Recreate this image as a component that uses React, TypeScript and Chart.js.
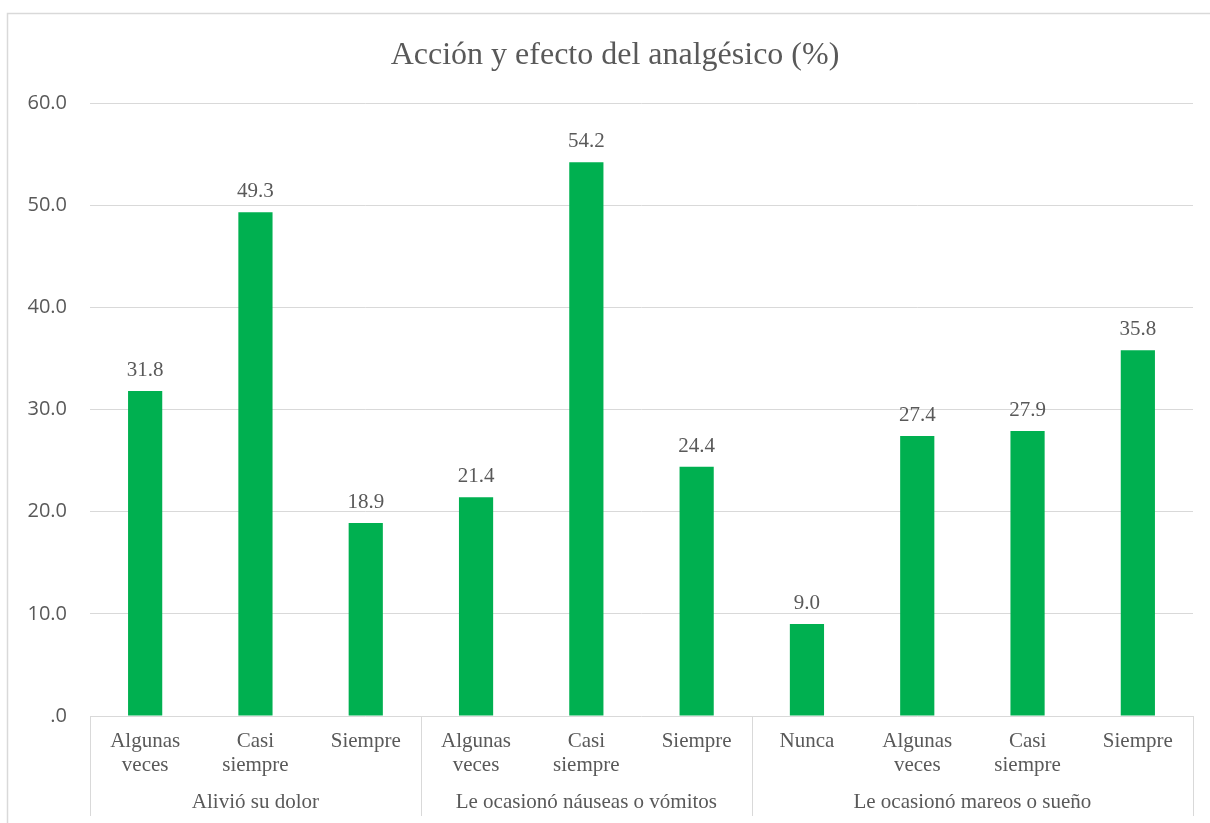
import React, { useEffect, useRef } from "react";
import { Chart, registerables } from "chart.js";

Chart.register(...registerables);

const categories: string[][] = [
  ["Algunas", "veces"], ["Casi", "siempre"], ["Siempre"],
  ["Algunas", "veces"], ["Casi", "siempre"], ["Siempre"],
  ["Nunca"], ["Algunas", "veces"], ["Casi", "siempre"], ["Siempre"],
];
const values: number[] = [31.8, 49.3, 18.9, 21.4, 54.2, 24.4, 9.0, 27.4, 27.9, 35.8];
const groups: string[] = ["Alivió su dolor", "Le ocasionó náuseas o vómitos", "Le ocasionó mareos o sueño"];
const groupSizes: number[] = [3, 3, 4];
const yMin = 0;
const yMax = 60;
const yStep = 10;
const title = "Acción y efecto del analgésico (%)";

const TEXT = "#595959";
const GRID = "#d9d9d9";
const BAR = "#00B050";
const SERIF = "'Liberation Serif', 'Times New Roman', serif";

export default function App() {
  const ref = useRef<HTMLCanvasElement>(null);
  useEffect(() => {
    document.body.style.margin = "0";
    const canvas = ref.current!;
    const decor = {
      id: "decor",
      beforeDraw(chart: any) {
        const ctx = chart.ctx;
        ctx.save();
        ctx.fillStyle = "#ffffff";
        ctx.fillRect(0, 0, chart.width, chart.height);
        ctx.strokeStyle = GRID;
        ctx.lineWidth = 1.5;
        ctx.beginPath();
        ctx.moveTo(7.5, chart.height + 5);
        ctx.lineTo(7.5, 13.5);
        ctx.lineTo(chart.width + 5, 13.5);
        ctx.stroke();
        ctx.restore();
      },
      afterDraw(chart: any) {
        const ctx = chart.ctx;
        const xs = chart.scales.x;
        const area = chart.chartArea;
        ctx.save();
        // title
        ctx.fillStyle = TEXT;
        ctx.font = `32px ${SERIF}`;
        ctx.textAlign = "center";
        ctx.textBaseline = "alphabetic";
        ctx.fillText(title, 615, 64);
        // group separators and labels
        ctx.strokeStyle = GRID;
        ctx.lineWidth = 1;
        const half = (xs.getPixelForValue(1) - xs.getPixelForValue(0)) / 2;
        let start = 0;
        const bounds: number[] = [xs.getPixelForValue(0) - half];
        groupSizes.forEach((n) => {
          start += n;
          bounds.push(xs.getPixelForValue(start - 1) + half);
        });
        bounds.forEach((b) => {
          const xp = Math.round(b) + 0.5;
          ctx.beginPath();
          ctx.moveTo(xp, area.bottom);
          ctx.lineTo(xp, 816);
          ctx.stroke();
        });
        ctx.font = `21px ${SERIF}`;
        ctx.fillStyle = TEXT;
        groups.forEach((g, i) => {
          ctx.fillText(g, (bounds[i] + bounds[i + 1]) / 2, 808);
        });
        ctx.restore();
      },
      afterDatasetsDraw(chart: any) {
        const ctx = chart.ctx;
        const meta = chart.getDatasetMeta(0);
        ctx.save();
        ctx.fillStyle = TEXT;
        ctx.font = `21px ${SERIF}`;
        ctx.textAlign = "center";
        ctx.textBaseline = "alphabetic";
        meta.data.forEach((bar: any, i: number) => {
          ctx.fillText(values[i].toFixed(1), bar.x, bar.y - 15);
        });
        ctx.restore();
      },
    };
    const chart = new Chart(canvas, {
      type: "bar",
      data: {
        labels: categories,
        datasets: [
          {
            data: values,
            backgroundColor: BAR,
            borderWidth: 0,
            categoryPercentage: 1,
            barPercentage: 0.31,
          },
        ],
      },
      options: {
        responsive: false,
        animation: false,
        devicePixelRatio: 1,
        layout: { padding: { left: 0, right: 17, top: 103, bottom: 0 } },
        plugins: { legend: { display: false }, tooltip: { enabled: false }, title: { display: false } },
        scales: {
          x: {
            grid: { display: false, drawTicks: false },
            border: { display: false },
            ticks: {
              color: TEXT,
              font: { family: SERIF, size: 21, lineHeight: 1.15 },
              padding: 13,
              maxRotation: 0,
              autoSkip: false,
            },
            afterFit(scale: any) {
              scale.height = 107;
            },
          },
          y: {
            min: yMin,
            max: yMax,
            grid: { color: GRID, lineWidth: 1, drawTicks: false },
            border: { display: false },
            ticks: {
              stepSize: yStep,
              color: TEXT,
              font: { family: "'Open Sans', sans-serif", size: 20 },
              padding: 23,
              callback: (v: any) => (Number(v) === 0 ? ".0" : Number(v).toFixed(1)),
            },
            afterFit(scale: any) {
              scale.width = 90;
            },
          },
        },
      },
      plugins: [decor],
    });
    return () => chart.destroy();
  }, []);
  return (
    <div style={{ position: "absolute", left: 0, top: 0, width: 1210, height: 823 }}>
      <canvas ref={ref} width={1210} height={823} />
    </div>
  );
}
